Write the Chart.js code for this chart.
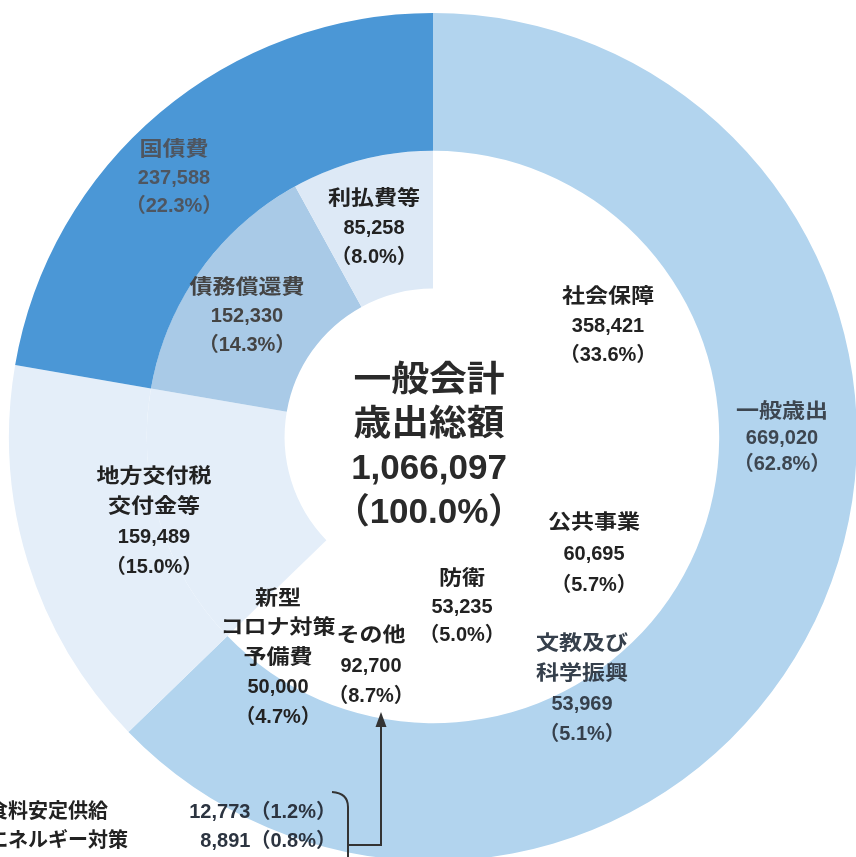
<!DOCTYPE html>
<html lang="ja">
<head>
<meta charset="utf-8">
<script src="https://cdn.jsdelivr.net/npm/chart.js@4.4.0/dist/chart.umd.min.js"></script>
<style>
  html, body { margin: 0; padding: 0; background: #fff; overflow: hidden; width: 856px; height: 857px; }
  #wrap { position: absolute; left: 0; top: 0; }
</style>
</head>
<body>
<div id="wrap"><canvas id="grafico" width="866" height="874"></canvas></div>
<script>
// 外側の輪（大分類）
const outerLabels = ["一般歳出", "地方交付税交付金等", "国債費"];
const outerValues = [669020, 159489, 237588];
const outerColors = ["#b2d4ee", "#e4eef9", "#4b97d6"];

// 内側の輪（内訳）
const innerLabels = ["社会保障", "公共事業", "文教及び科学振興", "防衛", "その他",
  "新型コロナ対策予備費", "地方交付税交付金等", "債務償還費", "利払費等"];
const innerValues = [358421, 60695, 53969, 53235, 92700, 50000, 159489, 152330, 85258];
const innerColors = ["#ffffff", "#ffffff", "#ffffff", "#ffffff", "#ffffff", "#ffffff",
  "#e4eef9", "#a9cae7", "#dde9f6"];

// 合計
const totalLabel = ["一般会計", "歳出総額"];
const totalValue = 1066097;

// その他の内訳
const subLabels = ["食料安定供給", "エネルギー対策"];
const subValues = [12773, 8891];

const fmt = v => v.toLocaleString("en-US");
const pct = v => "（" + (v / totalValue * 100).toFixed(1) + "%）";

// ラベルの配置（中心からのずれ）
const rotulos = [
  { ring: 0, i: 0, name: ["一般歳出"], dx: 349, dy: -25, gap: 26, color: "#3d4650" },
  { ring: 0, i: 2, name: ["国債費"], dx: -259, dy: -287, gap: 28, color: "#4e5661" },
  { ring: 1, i: 0, name: ["社会保障"], dx: 175, dy: -140, gap: 29, color: "#222" },
  { ring: 1, i: 1, name: ["公共事業"], dx: 161, dy: 86, gap: 31, color: "#222" },
  { ring: 1, i: 2, name: ["文教及び", "科学振興"], dx: 149, dy: 207, gap: 30, color: "#36404c" },
  { ring: 1, i: 3, name: ["防衛"], dx: 29, dy: 142, gap: 28, color: "#222" },
  { ring: 1, i: 4, name: ["その他"], dx: -62, dy: 199, gap: 30, color: "#222" },
  { ring: 1, i: 5, name: ["新型", "コロナ対策", "予備費"], dx: -155, dy: 162, gap: 29.5, color: "#222" },
  { ring: 1, i: 6, name: ["地方交付税", "交付金等"], dx: -279, dy: 40, gap: 30, color: "#222" },
  { ring: 1, i: 7, name: ["債務償還費"], dx: -186, dy: -149, gap: 28.5, color: "#444" },
  { ring: 1, i: 8, name: ["利払費等"], dx: -59, dy: -238, gap: 29, color: "#222" }
];

const fonte = '"Liberation Sans", "Noto Sans CJK JP", sans-serif';

function texto(ctx, str, x, y, font, sx, align, color) {
  ctx.save();
  ctx.font = font;
  ctx.fillStyle = color;
  ctx.translate(x, y);
  ctx.scale(sx, 1);
  ctx.textAlign = align;
  ctx.textBaseline = "middle";
  ctx.fillText(str, 0, 0);
  ctx.restore();
}

const temCJK = s => /[\u3040-\u9fff]/.test(s);

const rotulosPlugin = {
  id: "rotulos",
  afterDraw(chart) {
    const ctx = chart.ctx;
    const arc = chart.getDatasetMeta(0).data[0];
    const cx = arc.x, cy = arc.y;
    const valores = [outerValues, innerValues];

    rotulos.forEach(r => {
      const v = valores[r.ring][r.i];
      const linhas = r.name.concat([fmt(v), pct(v)]);
      linhas.forEach((l, k) => {
        const cjk = temCJK(l);
        texto(ctx, l, cx + r.dx, cy + r.dy + k * r.gap, "bold 20px " + fonte,
          cjk ? 1.15 : 1, "center", r.color);
      });
    });

    // 中央
    const centro = totalLabel.concat([fmt(totalValue), "（100.0%）"]);
    centro.forEach((l, k) => {
      const cjk = temCJK(l);
      texto(ctx, l, cx - 4, cy - 56 + k * 44, "bold 35px " + fonte, cjk ? 1.08 : 1, "center", "#2a2a2a");
    });

    // その他の内訳
    subLabels.forEach((l, k) => {
      const y = cy + 375 + k * 29;
      texto(ctx, l, cx - 445, y, "bold 20px " + fonte, 1, "left", "#222");
      texto(ctx, fmt(subValues[k]) + pct(subValues[k]), cx - 97, y, "bold 20px " + fonte, 1, "right", "#2c3440");
    });

    // かっこと矢印
    ctx.save();
    ctx.strokeStyle = "#333";
    ctx.fillStyle = "#333";
    ctx.lineWidth = 2;
    ctx.beginPath();
    ctx.moveTo(cx - 101, cy + 355);
    ctx.quadraticCurveTo(cx - 85, cy + 356, cx - 85, cy + 370);
    ctx.lineTo(cx - 85, cy + 430);
    ctx.moveTo(cx - 85, cy + 408);
    ctx.lineTo(cx - 52, cy + 408);
    ctx.lineTo(cx - 52, cy + 287);
    ctx.stroke();
    ctx.beginPath();
    ctx.moveTo(cx - 52, cy + 275);
    ctx.lineTo(cx - 57.5, cy + 290);
    ctx.lineTo(cx - 46.5, cy + 290);
    ctx.closePath();
    ctx.fill();
    ctx.restore();
  }
};

const ctx = document.getElementById("grafico").getContext("2d");
new Chart(ctx, {
  type: "doughnut",
  data: {
    labels: innerLabels,
    datasets: [
      { label: "大分類", data: outerValues, backgroundColor: outerColors, borderWidth: 0, hoverOffset: 0 },
      { label: "内訳", data: innerValues, backgroundColor: innerColors, borderWidth: 0, hoverOffset: 0 }
    ]
  },
  options: {
    responsive: false,
    animation: false,
    cutout: "35%",
    layout: { padding: { left: 9, top: 13, right: 9, bottom: 13 } },
    plugins: { legend: { display: false }, tooltip: { enabled: false } }
  },
  plugins: [rotulosPlugin]
});
</script>
</body>
</html>
